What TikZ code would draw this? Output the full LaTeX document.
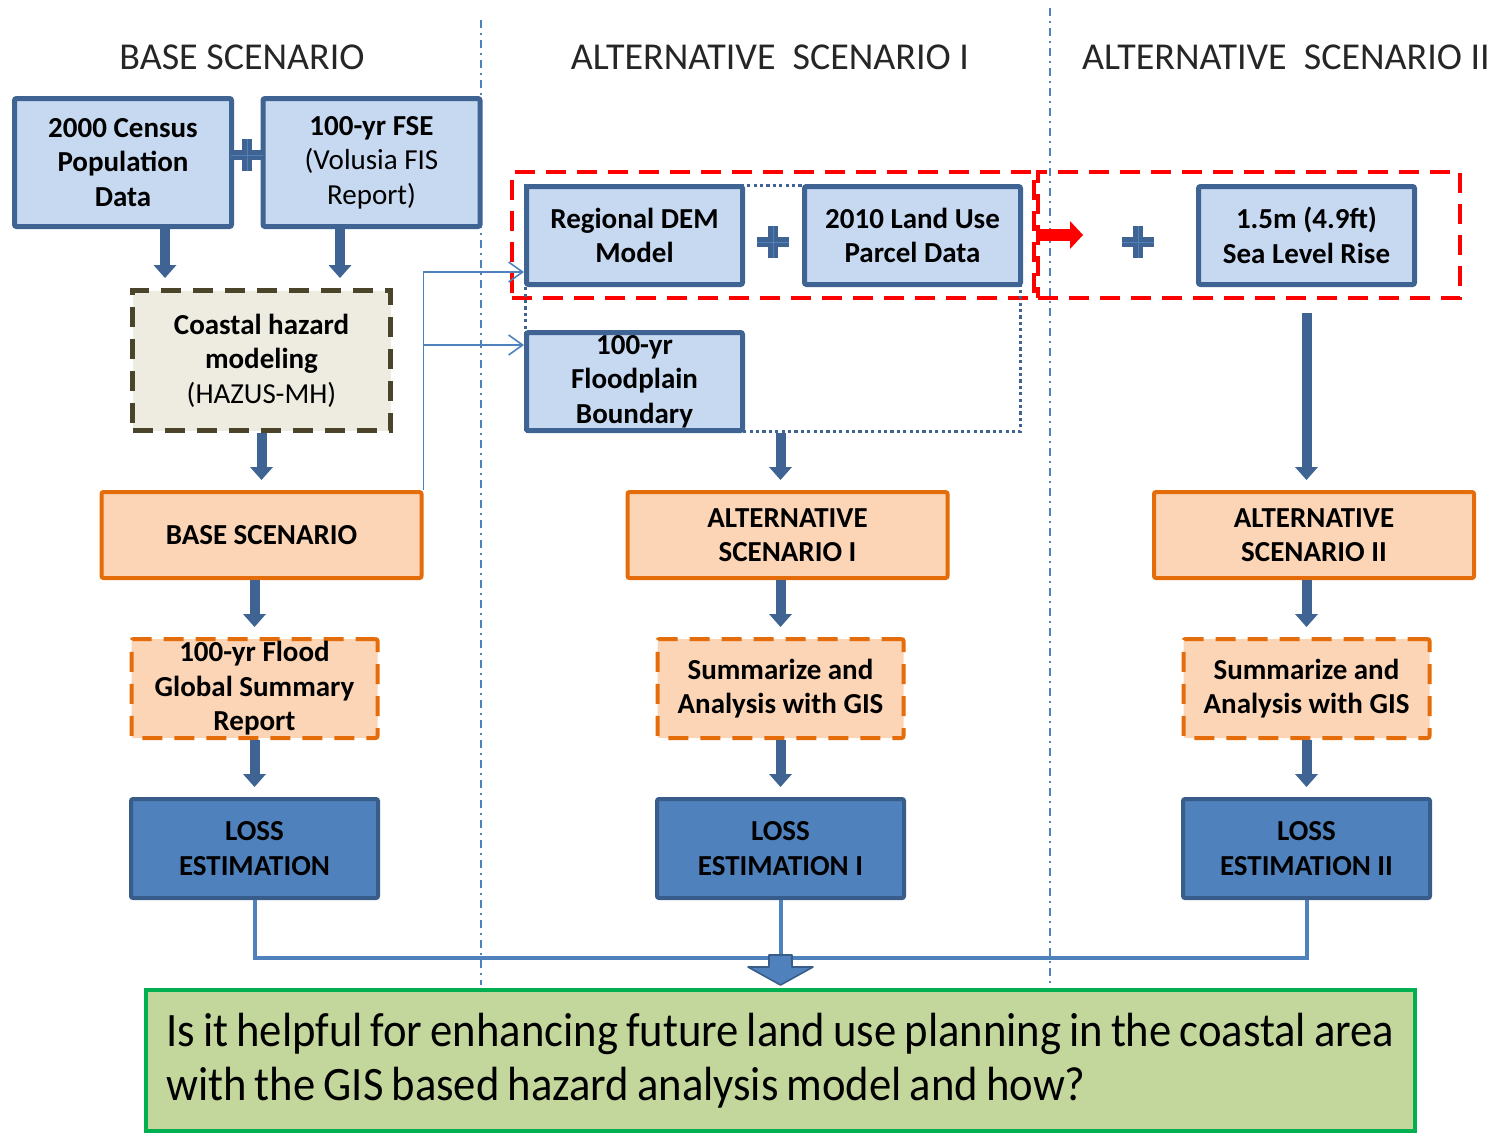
\documentclass[tikz,border=0pt]{standalone}
\usepackage{fontspec}
\setmainfont{Carlito}
\newfontfamily\questionfamily{Carlito}[FakeStretch=0.93, WordSpace=0.8]
\usetikzlibrary{arrows.meta,positioning,shapes.misc}

\definecolor{boxblue}{HTML}{C6D9F1}
\definecolor{edgeblue}{HTML}{3F6494}
\definecolor{lossblue}{HTML}{4F81BD}
\definecolor{lossedge}{HTML}{385D8A}
\definecolor{peach}{HTML}{FBD5B5}
\definecolor{orangeedge}{HTML}{E46C0A}
\definecolor{paper}{HTML}{EEECE1}
\definecolor{hazardedge}{HTML}{4A452A}
\definecolor{leaf}{HTML}{C3D69B}
\definecolor{leafedge}{HTML}{00B050}

\newcommand\boxfont{\fontsize{14.5}{17.25}\selectfont\bfseries}

\tikzset{
    heading/.style = {
        font = \fontsize{19}{23}\selectfont,
        text = black!85,
        inner sep = 0pt,
        },
    data/.style = {
        draw = edgeblue,
        fill = boxblue,
        line width = 2.5pt,
        rounded corners = 1pt,
        align = center,
        font = \boxfont,
        inner sep = 0pt,
        minimum width = 108pt,
        minimum height = 49pt,
        },
    model/.style = {
        draw = hazardedge,
        fill = paper,
        line width = 2.5pt,
        dash pattern = on 10pt off 6pt,
        align = center,
        font = \boxfont,
        inner sep = 0pt,
        minimum width = 129pt,
        minimum height = 70pt,
        },
    scenario/.style = {
        draw = orangeedge,
        fill = peach,
        line width = 2pt,
        rounded corners = 1pt,
        align = center,
        font = \boxfont,
        inner sep = 0pt,
        minimum width = 160pt,
        minimum height = 43pt,
        },
    summary/.style = {
        scenario,
        dash pattern = on 10pt off 6pt,
        minimum width = 123pt,
        minimum height = 49.5pt,
        },
    loss/.style = {
        draw = lossedge,
        fill = lossblue,
        line width = 2pt,
        rounded corners = 1pt,
        align = center,
        font = \boxfont,
        inner sep = 0pt,
        minimum width = 123.5pt,
        minimum height = 49.5pt,
        },
    hazard zone/.style = {
        draw = red,
        line width = 2pt,
        dash pattern = on 10pt off 5.5pt,
        inner sep = 0pt,
        minimum width = 261pt,
        minimum height = 63pt,
        },
    input group/.style = {
        draw = edgeblue,
        line width = 1.6pt,
        dash pattern = on 1.6pt off 1.6pt,
        inner sep = 0pt,
        minimum width = 247.5pt,
        minimum height = 123pt,
        },
    plus/.style = {
        cross out,
        rotate = 45,
        draw = edgeblue,
        double = lossblue,
        double distance = 0.4pt,
        line width = 2.3pt,
        inner sep = 0pt,
        minimum size = 9.2pt,
        },
    question/.style = {
        draw = leafedge,
        fill = leaf,
        line width = 2pt,
        align = left,
        font = \questionfamily\fontsize{24}{27}\selectfont,
        inner sep = 0pt,
        minimum width = 634.5pt,
        minimum height = 70.5pt,
        },
    flow/.style = {
        draw = edgeblue,
        line width = 5pt,
        -{Triangle[width=11.5pt,length=6.5pt,line width=0pt]},
        shorten > = 5pt,
        },
    link/.style = {
        draw = lossblue,
        line width = 0.8pt,
        -{Straight Barb[length=7pt,width=10pt]},
        },
    hazard arrow/.style = {
        draw = red,
        line width = 6pt,
        -{Triangle[width=14pt,length=6.5pt,line width=0pt]},
        },
    merge line/.style = {
        draw = lossblue,
        line width = 2pt,
        },
    merge arrow/.style = {
        draw = lossedge,
        fill = lossblue,
        line width = 0.8pt,
        line join = round,
        },
    divider/.style = {
        draw = lossblue,
        line width = 0.75pt,
        dash pattern = on 4pt off 2.5pt on 1pt off 2.5pt,
        },
}

\begin{document}
\begin{tikzpicture}[x=0.5pt, y=-0.5pt, node distance=28.5pt]
    \useasboundingbox (0,0) rectangle (1501,1136);

    \draw[divider] (481,20) -- (481,985);
    \draw[divider] (1050,8) -- (1050,985);

    \node[heading] (headBase) at (242,57) {BASE SCENARIO};
    \node[heading] (headAlt1) at (770,57) {ALTERNATIVE~~SCENARIO I};
    \node[heading] (headAlt2) at (1286,57) {ALTERNATIVE~~SCENARIO II};

    % base scenario column
    \node[data, minimum width=108.5pt, minimum height=64pt] (census) at (123,162.5) {2000 Census\\Population\\Data};
    \node[data, minimum width=108.5pt, minimum height=64pt] (fse) at (371.5,162.5) {100-yr FSE\\{\mdseries(Volusia FIS}\\{\mdseries Report)}};
    \node[plus] (plusBase) at (247,155) {};
    \node[model] (coastal) at (261.5,360.5) {Coastal hazard\\modeling\\{\mdseries(HAZUS-MH)}};
    \node[scenario, below=of coastal] (base) {BASE SCENARIO};
    \node[summary, below=of base, xshift=-3.5pt] (report) {100-yr Flood\\Global Summary\\Report};
    \node[loss, below=of report] (loss) {LOSS\\ESTIMATION};

    % alternative I
    \node[hazard zone] (zoneA) at (773,235) {};
    \node[input group] (inputs) at (773,308.5) {};
    \node[data] (dem) at (634.5,235.5) {Regional DEM\\Model};
    \node[data, right=of dem] (landuse) {2010 Land Use\\Parcel Data};
    \node[plus] (plusAlt1) at (773,242) {};
    \node[data, below=21.5pt of dem] (floodplain) {100-yr\\Floodplain\\Boundary};
    \node[scenario] (alt1) at (787.5,535) {ALTERNATIVE\\SCENARIO I};
    \node[summary, below=of alt1, xshift=-3.5pt] (summ1) {Summarize and\\Analysis with GIS};
    \node[loss, below=of summ1] (loss1) {LOSS\\ESTIMATION I};

    % alternative II
    \node[hazard zone, minimum width=211pt] (zoneB) at (1249,235) {};
    \node[plus] (plusAlt2) at (1138,242) {};
    \node[data] (slr) at (1306.5,235.5) {1.5m (4.9ft)\\Sea Level Rise};
    \node[scenario] (alt2) at (1314,535) {ALTERNATIVE\\SCENARIO II};
    \node[summary, below=of alt2, xshift=-3.75pt] (summ2) {Summarize and\\Analysis with GIS};
    \node[loss, below=of summ2] (loss2) {LOSS\\ESTIMATION II};

    \node[question] (question) at (780.5,1060.5) {Is it helpful for enhancing future land use planning in the coastal area\\with the GIS based hazard analysis model and how?};

    \coordinate (censusOut) at ([xshift=21pt]census.south);
    \coordinate (fseOut) at ([xshift=-15.75pt]fse.south);
    \coordinate (redtip) at (1083,235);
    \coordinate (merge) at (780.5,958);

    \path (censusOut) edge[flow] (censusOut |- coastal.north);
    \path (fseOut) edge[flow] (fseOut |- coastal.north);
    \path (coastal.south) edge[flow] (base.north);
    \path (base.south -| report.north) edge[flow] (report.north);
    \path (report) edge[flow] (loss);

    \path (inputs.south -| summ1.north) edge[flow] (summ1.north |- alt1.north);
    \path (alt1.south -| summ1.north) edge[flow] (summ1.north);
    \path (summ1) edge[flow] (loss1);

    \path (slr.south) edge[flow, shorten <=13pt] (slr.south |- alt2.north);
    \path (alt2.south -| summ2.north) edge[flow] (summ2.north);
    \path (summ2) edge[flow] (loss2);

    \draw[link] (base.north east) |- ([yshift=-18.25pt]dem.west);
    \draw[link] (base.north east) |- ([yshift=18.25pt]floodplain.west);
    \draw[hazard arrow] (zoneA.east) -- (redtip);

    \draw[merge line] (loss.south) |- (merge) -| (loss2.south);
    \draw[merge line] (loss1.south) -- (merge);
    \draw[merge arrow, shift={(merge)}] (-11.5,-3) -- (11.5,-3) -- (11.5,9) -- (32.5,9)
        -- (0,27) -- (-32.5,9) -- (-11.5,9) -- cycle;
\end{tikzpicture}
\end{document}
